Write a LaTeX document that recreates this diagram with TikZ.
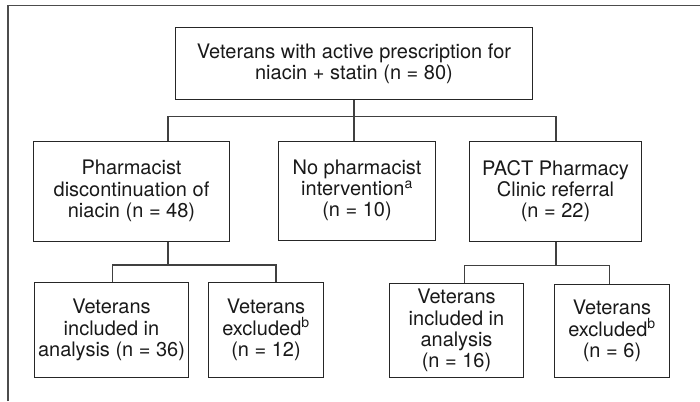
\documentclass[tikz,border=0pt]{standalone}
\usepackage{fontspec}
\setmainfont{TeX Gyre Heros}
\usetikzlibrary{positioning, calc}

\begin{document}
\begin{tikzpicture}[
  x=1pt, y=-1pt,
  block/.style = {draw=black!85, line width=1pt, inner sep=1pt, align=center,
                  font=\fontsize{20}{21.3}\selectfont, text=black!90, anchor=north west},
  link/.style  = {draw=black!75, line width=1.1pt},
  frame/.style = {draw=black!70, line width=1.4pt}
]
  \useasboundingbox (0,0) rectangle (700,401);

  % open frame round the chart
  \draw[frame] (8,401) -- (8,5.5) -- (700,5.5);

  % first tier
  \node[block, minimum width=357, minimum height=72] (all) at (175,27)
    {Veterans with active prescription for\\niacin + statin (n = 80)};

  % second tier
  \node[block, minimum width=196, minimum height=100] (pdisc) at (33,140.5)
    {Pharmacist\\discontinuation of\\niacin (n = 48)};
  \node[block, minimum width=157, minimum height=99] (none) at (278,140.5)
    {No pharmacist\\intervention\textsuperscript{a}\\(n = 10)};
  \node[block, minimum width=172, minimum height=100] (pact) at (469,140.5)
    {PACT Pharmacy\\Clinic referral\\(n = 22)};

  % third tier
  \node[block, minimum width=154, minimum height=95] (pinc) at (34,282)
    {Veterans\\included in\\analysis (n = 36)};
  \node[block, minimum width=115, minimum height=95] (pexc) at (208,282)
    {Veterans\\excluded\textsuperscript{b}\\(n = 12)};
  \node[block, minimum width=134, minimum height=94] (cinc) at (389,283)
    {Veterans\\included in\\analysis\\(n = 16)};
  \node[block, minimum width=115, minimum height=93] (cexc) at (554,284)
    {Veterans\\excluded\textsuperscript{b}\\(n = 6)};

  % split points
  \coordinate (s1) at (354,116.5);
  \coordinate (s2) at (168,265);
  \coordinate (s3) at (556,265.5);

  \draw[link] (all.south -| s1) -- (s1);
  \draw[link] (pdisc.north -| s2) |- (s1) -| (pact.north -| s3);
  \draw[link] (s1) -- (none.north -| s1);

  \draw[link] (pdisc.south -| s2) -- (s2);
  \draw[link] ([xshift=1pt]pinc.north) |- (s2) -| ([xshift=10pt]pexc.north);

  \draw[link] (pact.south -| s3) -- (s3);
  \draw[link] ([xshift=8pt]cinc.north) |- (s3) -| ([xshift=-2.5pt]cexc.north);
\end{tikzpicture}
\end{document}
